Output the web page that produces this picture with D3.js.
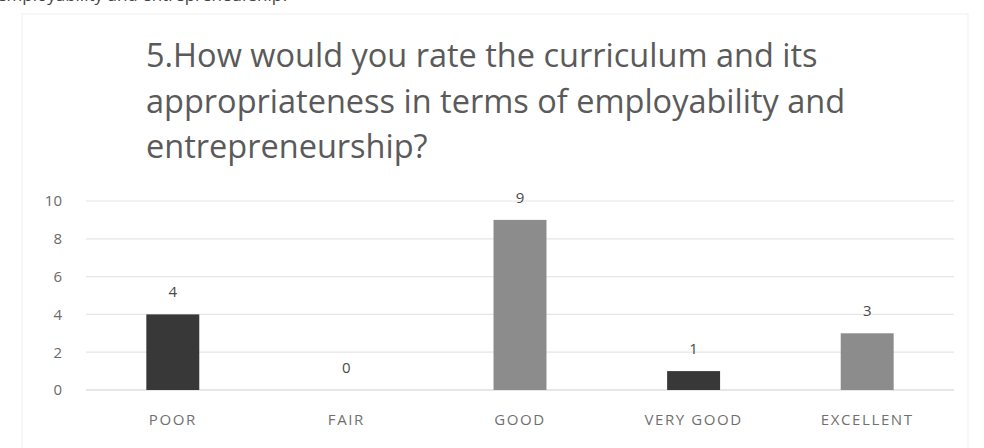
<!DOCTYPE html>
<html>
  <head>
    <meta charset="utf-8">
    <title>curriculum rating</title>
    <script src="https://d3js.org/d3.v7.min.js"></script>
    <style>
      body { margin: 0; background: #fff; font-family: 'Open Sans', sans-serif; }
    </style>
  </head>
  <body>
    <svg></svg>
    <script>
      // data
      var categories = ["POOR", "FAIR", "GOOD", "VERY GOOD", "EXCELLENT"];
      var values = [4, 0, 9, 1, 3];
      var barColors = ["#383838", "#383838", "#8c8c8c", "#383838", "#8c8c8c"];
      var yTicks = [0, 2, 4, 6, 8, 10];
      var titleLines = [
        "5.How would you rate the curriculum and its",
        "appropriateness in terms of employability and",
        "entrepreneurship?"
      ];
      var cutLine = "employability and entrepreneurship?";

      var W = 984, H = 448;
      var plot = {left: 86, right: 954, top: 201, bottom: 390};

      var svg = d3.select("svg").attr("width", W).attr("height", H);

      svg.append("rect").attr("width", W).attr("height", H).attr("fill", "#fff");

      // faint frame of the pasted chart
      svg.append("rect")
        .attr("x", 22).attr("y", 14).attr("width", 946).attr("height", 440)
        .attr("fill", "none").attr("stroke", "#efefef");

      // clipped line of the page text above the chart
      svg.append("text")
        .attr("x", -3).attr("y", 1)
        .attr("fill", "#444").attr("font-size", 17)
        .text(cutLine);

      // title
      var title = svg.append("text")
        .attr("fill", "#5a5a5a")
        .attr("font-size", 32.5);
      title.selectAll("tspan")
        .data(titleLines)
        .enter().append("tspan")
          .attr("x", 146)
          .attr("y", function(d, i){ return 67 + i*45.5; })
          .text(function(d){ return d; });

      var x = d3.scaleBand()
        .domain(categories)
        .range([plot.left, plot.right])
        .paddingInner(0.695)
        .paddingOuter(0.3475);

      var y = d3.scaleLinear()
        .domain([0, 10])
        .range([plot.bottom, plot.top]);

      // gridlines
      svg.append("g")
        .selectAll("line")
        .data(yTicks)
        .enter().append("line")
          .attr("x1", plot.left).attr("x2", plot.right)
          .attr("y1", function(d){ return y(d); })
          .attr("y2", function(d){ return y(d); })
          .attr("stroke", function(d){ return d === 0 ? "#cfcfcf" : "#e6e6e6"; })
          .attr("stroke-width", 1.2);

      // y axis labels
      var yAxis = svg.append("g")
        .attr("transform", "translate(" + (plot.left - 24) + ",0)")
        .call(d3.axisLeft(y).tickValues(yTicks).tickSize(0).tickPadding(0));
      yAxis.select(".domain").remove();
      yAxis.selectAll("text")
        .attr("fill", "#6a6a6a")
        .attr("font-size", 15)
        .attr("font-family", "'Open Sans', sans-serif");

      // bars
      svg.append("g")
        .selectAll("rect")
        .data(values)
        .enter().append("rect")
          .attr("x", function(d, i){ return x(categories[i]); })
          .attr("y", function(d){ return y(d); })
          .attr("width", x.bandwidth())
          .attr("height", function(d){ return y(0) - y(d); })
          .attr("fill", function(d, i){ return barColors[i]; });

      // value labels
      svg.append("g")
        .selectAll("text")
        .data(values)
        .enter().append("text")
          .attr("x", function(d, i){ return x(categories[i]) + x.bandwidth()/2; })
          .attr("y", function(d){ return y(d) - 17; })
          .attr("text-anchor", "middle")
          .attr("fill", "#4a4a4a")
          .attr("font-size", 15)
          .text(function(d){ return d; });

      // x axis labels
      var xAxis = svg.append("g")
        .attr("transform", "translate(0," + (plot.bottom + 24) + ")")
        .call(d3.axisBottom(x).tickSize(0).tickPadding(0));
      xAxis.select(".domain").remove();
      xAxis.selectAll("text")
        .attr("fill", "#707070")
        .attr("font-size", 15)
        .attr("letter-spacing", 1.6)
        .attr("font-family", "'Open Sans', sans-serif");
    </script>
  </body>
</html>
